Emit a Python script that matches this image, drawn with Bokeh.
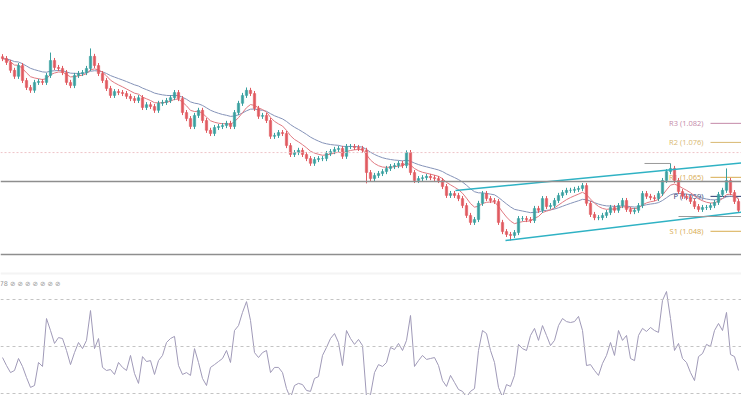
import pandas as pd
from bokeh.plotting import figure
from bokeh.models import Range1d, Span, ColumnDataSource
from bokeh.core.properties import value
from bokeh.embed import file_html
from bokeh.resources import INLINE

# ---- data ----
closes = [
    1.1024, 1.1012, 1.0987, 1.0968, 1.1002, 1.0955, 1.0933, 1.0924, 1.0949, 1.0952,
    1.0949, 1.0971, 1.1018, 1.0996, 1.0993, 1.0980, 1.0949, 1.0939, 1.0971, 1.0977,
    1.0980, 1.0993, 1.1031, 1.1002, 1.0977, 1.0955, 1.0930, 1.0908, 1.0920, 1.0917,
    1.0914, 1.0905, 1.0898, 1.0892, 1.0901, 1.0870, 1.0879, 1.0873, 1.0861, 1.0883,
    1.0886, 1.0892, 1.0901, 1.0917, 1.0898, 1.0854, 1.0835, 1.0810, 1.0845, 1.0861,
    1.0829, 1.0798, 1.0788, 1.0807, 1.0810, 1.0813, 1.0820, 1.0810, 1.0854, 1.0883,
    1.0908, 1.0924, 1.0914, 1.0867, 1.0842, 1.0845, 1.0829, 1.0779, 1.0782, 1.0791,
    1.0788, 1.0750, 1.0722, 1.0728, 1.0735, 1.0722, 1.0709, 1.0694, 1.0706, 1.0709,
    1.0709, 1.0725, 1.0731, 1.0738, 1.0741, 1.0716, 1.0747, 1.0747, 1.0744, 1.0741,
    1.0735, 1.0665, 1.0646, 1.0656, 1.0662, 1.0668, 1.0678, 1.0684, 1.0687, 1.0694,
    1.0687, 1.0728, 1.0665, 1.0640, 1.0646, 1.0649, 1.0653, 1.0649, 1.0646, 1.0640,
    1.0621, 1.0593, 1.0599, 1.0593, 1.0583, 1.0561, 1.0530, 1.0508, 1.0517, 1.0568,
    1.0599, 1.0583, 1.0577, 1.0574, 1.0508, 1.0479, 1.0470, 1.0467, 1.0476, 1.0520,
    1.0520, 1.0517, 1.0514, 1.0552, 1.0546, 1.0583, 1.0558, 1.0561, 1.0577, 1.0593,
    1.0602, 1.0609, 1.0609, 1.0612, 1.0615, 1.0624, 1.0568, 1.0533, 1.0523, 1.0523,
    1.0530, 1.0539, 1.0555, 1.0546, 1.0561, 1.0577, 1.0549, 1.0542, 1.0546, 1.0561,
    1.0599, 1.0590, 1.0586, 1.0583, 1.0599, 1.0640, 1.0668, 1.0678, 1.0640, 1.0605,
    1.0590, 1.0586, 1.0574, 1.0558, 1.0549, 1.0555, 1.0555, 1.0561, 1.0571, 1.0596,
    1.0609, 1.0640, 1.0602, 1.0574, 1.0546,
]
first_open = 1.1030
wick = 0.0008
high_spikes = {12: 1.1043, 22: 1.1056, 61: 1.0933, 101: 1.0735, 167: 1.0694, 181: 1.0678}
low_spikes = {91: 1.0631, 127: 1.0451}

osc = [
    45.3, 41.9, 38.9, 39.8, 44.9, 41.5, 36.8, 32.6, 33.4, 43.2,
    41.5, 61.9, 56.8, 51.3, 53.8, 53.4, 48.3, 42.3, 47.4, 51.7,
    49.1, 52.6, 65.3, 49.1, 53.4, 41.1, 39.8, 40.2, 38.1, 43.2,
    41.1, 39.8, 46.2, 38.5, 34.3, 45.7, 43.6, 44.0, 38.1, 44.0,
    46.2, 51.7, 53.4, 54.3, 41.9, 38.1, 38.9, 37.7, 49.1, 43.2,
    36.4, 33.4, 41.1, 42.3, 43.6, 44.9, 48.3, 43.2, 56.8, 58.9,
    64.5, 69.1, 61.1, 47.4, 45.3, 47.4, 48.3, 38.9, 41.1, 41.1,
    38.9, 32.1, 28.0, 33.4, 34.3, 33.8, 31.3, 30.9, 36.4, 37.2,
    46.2, 49.6, 53.4, 55.5, 51.7, 41.9, 56.8, 53.4, 50.9, 53.0,
    50.4, 28.5, 29.5, 38.9, 42.3, 41.5, 43.2, 49.6, 48.7, 51.3,
    48.3, 52.6, 63.2, 41.5, 44.0, 46.2, 44.5, 44.9, 45.3, 41.9,
    35.5, 33.0, 37.7, 34.7, 31.7, 30.9, 28.5, 30.9, 32.1, 48.3,
    56.8, 55.5, 48.3, 43.2, 32.6, 28.5, 33.8, 33.0, 37.7, 50.9,
    49.1, 48.3, 54.7, 57.7, 52.6, 58.9, 54.7, 50.4, 52.6, 58.9,
    61.9, 60.6, 60.2, 60.6, 62.8, 56.8, 41.9, 42.3, 39.8, 37.7,
    42.8, 46.2, 51.7, 46.2, 56.8, 52.6, 54.7, 44.9, 44.0, 54.7,
    57.7, 56.4, 58.1, 56.8, 56.0, 69.6, 73.4, 61.9, 48.3, 51.3,
    44.9, 43.2, 38.9, 35.5, 45.7, 47.0, 50.9, 50.0, 56.8, 59.8,
    56.8, 64.5, 46.6, 45.7, 39.8,
]
osc_levels = [70, 50, 30]
osc_label = "78 ⊘ ⊘ ⊘ ⊘ ⊘ ⊘ ⊘"

pivot_names = ["R3", "R2", "R1", "P", "S1"]
pivot_values = [1.082, 1.076, 1.065, 1.059, 1.048]
pivot_colors = ["#c48aa8", "#d8b870", "#d8ac50", "#2c3c70", "#d8ac50"]

level_dotted = 1.0728
level_lines = [1.0637, 1.0407]
panel_sep = 1.0347

chan_up_x, chan_up_y = [113.25, 186.0], [1.06085, 1.0697]
chan_lo_x, chan_lo_y = [125.75, 186.0], [1.0451, 1.0542]
gray_seg1_x, gray_seg1_y = [160.5, 167.0], [1.06936, 1.06936]
gray_seg2_x, gray_seg2_y = [169.0, 186.0], [1.05266, 1.05266]

# ---- derived ----
N = len(closes)
xs = list(range(N))
opens = [first_open] + closes[:-1]
highs = [high_spikes.get(i, max(o, c) + wick) for i, (o, c) in enumerate(zip(opens, closes))]
lows = [low_spikes.get(i, min(o, c) - wick) for i, (o, c) in enumerate(zip(opens, closes))]
up = [c >= o for o, c in zip(opens, closes)]
UP, DN = "#3aa0a0", "#e05a60"
colors = [UP if u else DN for u in up]
s = pd.Series(closes)
ema_fast = s.ewm(span=8, adjust=False).mean().tolist()
ema_slow = s.ewm(span=20, adjust=False).mean().tolist()

src = ColumnDataSource(dict(x=xs, o=opens, c=closes, h=highs, l=lows, col=colors,
                            top=[max(a, b) for a, b in zip(opens, closes)],
                            bot=[min(a, b) for a, b in zip(opens, closes)]))

p = figure(width=741, height=395, x_range=Range1d(-0.5, 184.75),
           y_range=Range1d(0.996275, 1.1207), output_backend="svg",
           toolbar_location=None, x_axis_type=None, y_axis_type=None,
           min_border=0, outline_line_color=None,
           background_fill_color="white", border_fill_color="white")
p.grid.visible = False
p.extra_y_ranges = {"osc": Range1d(29.15, 197.23)}

# horizontal levels
p.add_layout(Span(location=level_dotted, dimension="width", line_color="#eec4c8",
                  line_dash="2 2", line_width=1))
for lv in level_lines:
    p.add_layout(Span(location=lv, dimension="width", line_color="#8e8e8e", line_width=1.5))
p.add_layout(Span(location=panel_sep, dimension="width", line_color="#f4f4f4", line_width=2))

# oscillator levels
for lv in osc_levels:
    p.add_layout(Span(location=lv, dimension="width", y_range_name="osc",
                      line_color="#c4c4c4", line_dash="3 3", line_width=1))

# pivot labels and lines
label_x = 175.25
for name, val, col in zip(pivot_names, pivot_values, pivot_colors):
    p.text(x=[label_x], y=[val], text=[f"{name} ({val:.3f})"], text_color=col,
           text_font=value("Open Sans"), text_font_size="7.5px",
           text_align="right", text_baseline="middle")
    p.line([177, 186], [val, val], line_color=col, line_width=1)

# moving averages
p.line(xs, ema_slow, line_color="#8593b8", line_width=1)
p.line(xs, ema_fast, line_color="#e07a82", line_width=1)

# candles
p.segment(x0="x", y0="h", x1="x", y1="l", line_color="col", line_width=1, source=src)
p.vbar(x="x", top="top", bottom="bot", width=0.6, fill_color="col", line_color="col",
       line_width=0.5, source=src)

# channel & markers
p.line(chan_up_x, chan_up_y, line_color="#2fb2c4", line_width=1.6)
p.line(chan_lo_x, chan_lo_y, line_color="#2fb2c4", line_width=1.6)
p.line(gray_seg1_x, gray_seg1_y, line_color="#9a9a9a", line_width=1)
p.line(gray_seg2_x, gray_seg2_y, line_color="#9a9a9a", line_width=1)

# oscillator
p.line(xs, osc, y_range_name="osc", line_color="#a09ab8", line_width=1)
p.text(x=[-0.7], y=[76.8], y_range_name="osc", text=[osc_label],
       text_color="#999999", text_font=value("DejaVu Sans"), text_font_size="6.5px",
       text_align="left", text_baseline="middle")

open("out.html", "w").write(file_html(p, INLINE))
